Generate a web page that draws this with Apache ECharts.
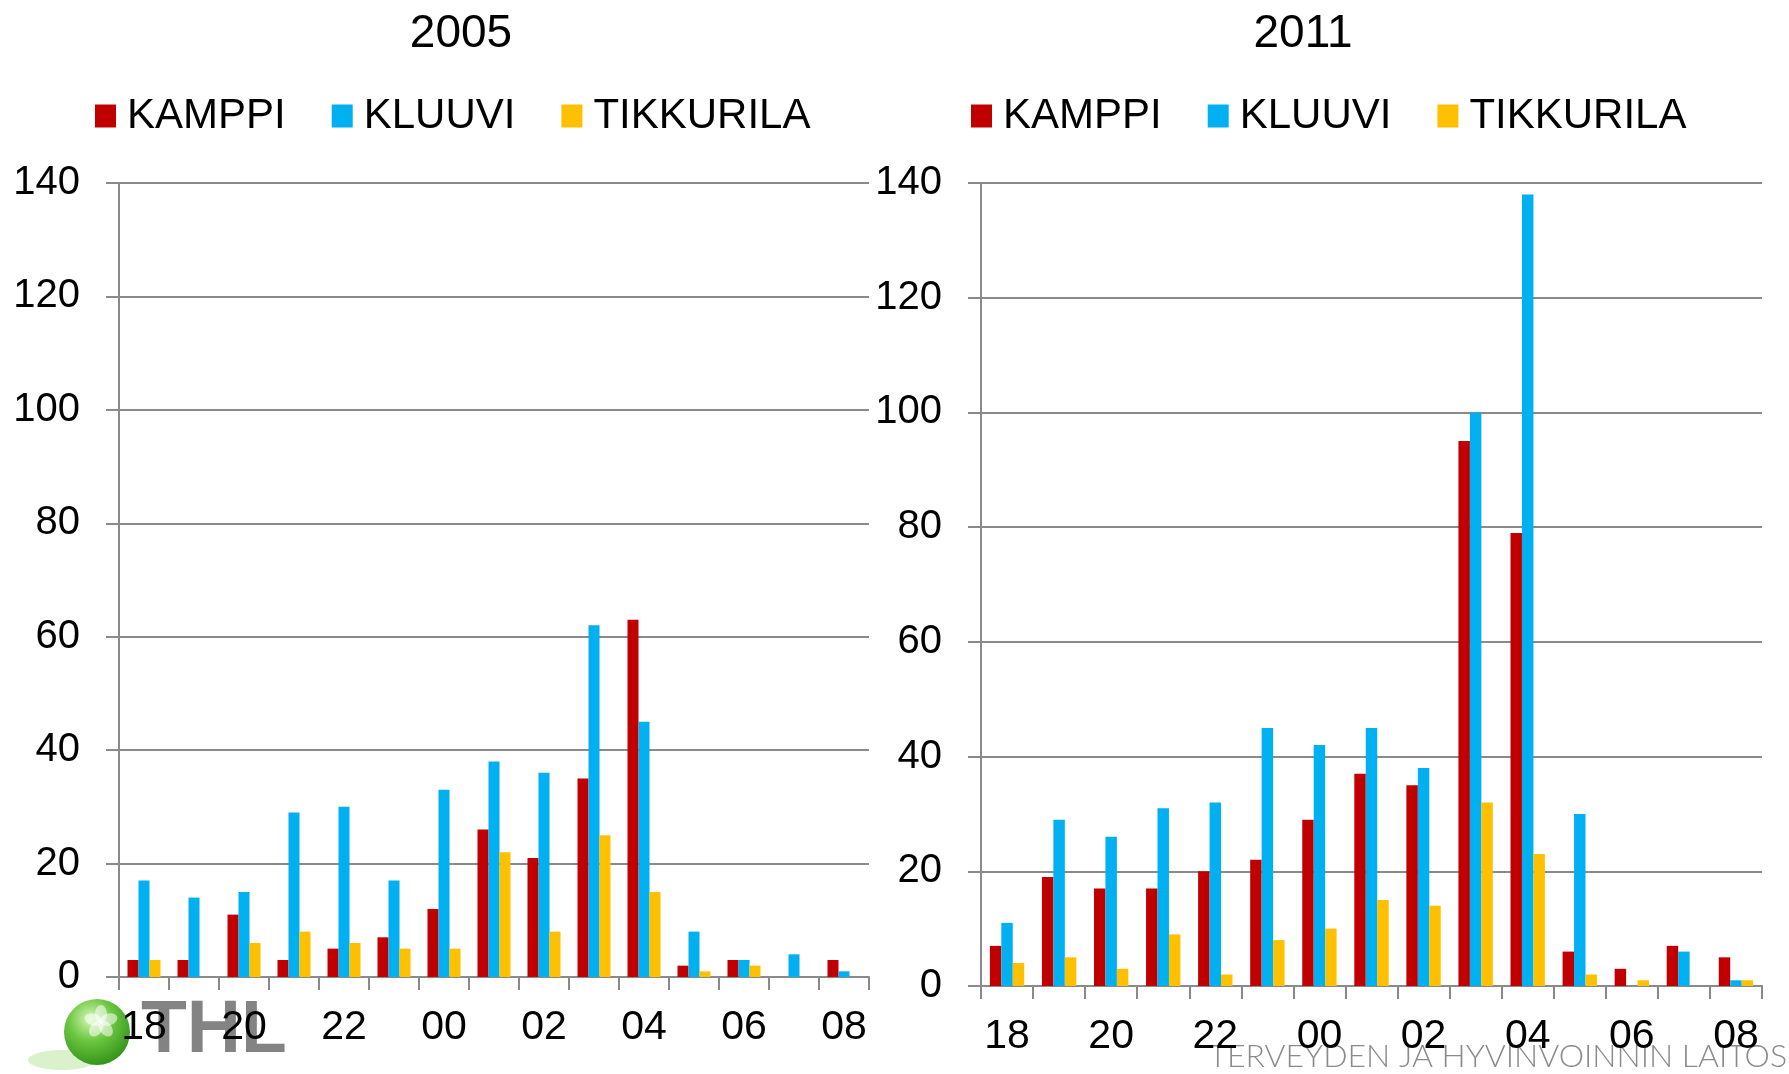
<!DOCTYPE html>
<html>
<head>
<meta charset="utf-8">
<title>KAMPPI, KLUUVI, TIKKURILA 2005 / 2011</title>
<script src="https://cdn.jsdelivr.net/npm/echarts@6/dist/echarts.min.js"></script>
<style>
  html, body { margin: 0; padding: 0; background: #ffffff; }
  #chart { width: 1789px; height: 1074px; }
</style>
</head>
<body>
<div id="chart"></div>
<script>
// hours of the night, one bar group per hour
const hours = ['18', '19', '20', '21', '22', '23', '00', '01', '02', '03', '04', '05', '06', '07', '08']
const stations = ['KAMPPI', 'KLUUVI', 'TIKKURILA']
const yTicks = { min: 0, max: 140, interval: 20 }

const kamppi2005 = [3, 3, 11, 3, 5, 7, 12, 26, 21, 35, 63, 2, 3, 0, 3]
const kluuvi2005 = [17, 14, 15, 29, 30, 17, 33, 38, 36, 62, 45, 8, 3, 4, 1]
const tikkurila2005 = [3, 0, 6, 8, 6, 5, 5, 22, 8, 25, 15, 1, 2, 0, 0]

const kamppi2011 = [7, 19, 17, 17, 20, 22, 29, 37, 35, 95, 79, 6, 3, 7, 5]
const kluuvi2011 = [11, 29, 26, 31, 32, 45, 42, 45, 38, 100, 138, 30, 0, 6, 1]
const tikkurila2011 = [4, 5, 3, 9, 2, 8, 10, 15, 14, 32, 23, 2, 1, 0, 1]

const colors = ['#c00000', '#00b0f0', '#ffc000']
const font = '"Liberation Sans", Arial, sans-serif'
const gridGrey = '#8a8a8a'

const chart = echarts.init(document.getElementById('chart'))

const makeX = (gridIndex) => ({
  type: 'category',
  gridIndex,
  data: hours,
  boundaryGap: true,
  axisLine: { lineStyle: { color: gridGrey, width: 2 } },
  axisTick: { show: true, interval: 0, length: 13, lineStyle: { color: gridGrey, width: 2 } },
  axisLabel: { interval: 1, color: '#000', fontSize: 41, fontFamily: font, margin: 30 }
})

const makeY = (gridIndex) => ({
  type: 'value',
  gridIndex,
  min: yTicks.min,
  max: yTicks.max,
  interval: yTicks.interval,
  axisLine: { show: true, lineStyle: { color: gridGrey, width: 2 } },
  axisTick: { show: true, length: 13, lineStyle: { color: gridGrey, width: 2 } },
  splitLine: { lineStyle: { color: gridGrey, width: 2 } },
  axisLabel: { color: '#000', fontSize: 40, fontFamily: font, margin: 39 }
})

const makeBars = (values, axisIndex) => values.map((data, i) => ({
  name: stations[i],
  type: 'bar',
  xAxisIndex: axisIndex,
  yAxisIndex: axisIndex,
  barGap: '0%',
  barCategoryGap: '34%',
  itemStyle: { color: colors[i] },
  data
}))

const makeLegend = (left) => ({
  left,
  top: 93,
  padding: 0,
  data: stations,
  icon: 'rect',
  itemWidth: 21,
  itemHeight: 23,
  itemGap: 46,
  textStyle: { color: '#000', fontSize: 42, fontFamily: font, lineHeight: 46, padding: [0, 0, 0, 6] }
})

// THL logo: green ball with a pale flower, then grey letters
const petals = [0, 72, 144, 216, 288].map((deg) => ({
  type: 'ellipse',
  z: -10,
  x: 101,
  y: 1022,
  rotation: (deg * Math.PI) / 180,
  shape: { cx: 0, cy: -8, rx: 6, ry: 9 },
  style: { fill: 'rgba(255,255,255,0.55)' }
}))

chart.setOption({
  animation: false,
  title: [
    { text: '2005', left: 456, top: 6, textAlign: 'center', textStyle: { fontSize: 46, fontWeight: 'normal', color: '#000', fontFamily: font } },
    { text: '2011', left: 1298, top: 6, textAlign: 'center', textStyle: { fontSize: 46, fontWeight: 'normal', color: '#000', fontFamily: font } }
  ],
  legend: [makeLegend(95), makeLegend(971)],
  grid: [
    { left: 119, right: 920, top: 183, bottom: 97 },
    { left: 981, right: 27, top: 183, bottom: 88 }
  ],
  xAxis: [makeX(0), makeX(1)],
  yAxis: [makeY(0), makeY(1)],
  series: [
    ...makeBars([kamppi2005, kluuvi2005, tikkurila2005], 0),
    ...makeBars([kamppi2011, kluuvi2011, tikkurila2011], 1)
  ],
  graphic: [
    {
      type: 'ellipse',
      z: -10,
      shape: { cx: 62, cy: 1060, rx: 34, ry: 10 },
      style: { fill: 'rgba(150,215,110,0.35)' }
    },
    {
      type: 'circle',
      z: -10,
      shape: { cx: 97, cy: 1032, r: 33 },
      style: {
        fill: {
          type: 'radial', x: 0.4, y: 0.3, r: 0.75,
          colorStops: [
            { offset: 0, color: '#d6f7b8' },
            { offset: 0.45, color: '#6cc640' },
            { offset: 1, color: '#2f8f17' }
          ]
        }
      }
    },
    ...petals,
    {
      type: 'text',
      z: -10,
      x: 141,
      y: 994,
      style: { text: 'THL', fontSize: 75, fontWeight: 'bold', fontFamily: font, fill: '#838383' }
    },
    {
      type: 'text',
      z: -10,
      x: 1787,
      y: 1073,
      style: {
        text: 'TERVEYDEN JA HYVINVOINNIN LAITOS',
        fontSize: 32,
        fontFamily: 'Lato, "Open Sans", sans-serif',
        fontWeight: 300,
        fill: '#8a8a8a',
        align: 'right',
        verticalAlign: 'bottom'
      }
    }
  ]
})
</script>
</body>
</html>
